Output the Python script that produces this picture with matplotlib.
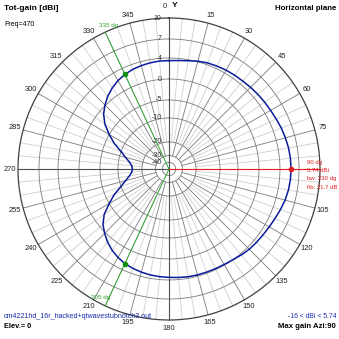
import numpy as np
import matplotlib
matplotlib.use("Agg")
import matplotlib.pyplot as plt

plt.rcParams['font.family'] = ['Liberation Sans', 'DejaVu Sans']

# Azimuth (deg, clockwise from Y) and total gain (dBi), 5 deg steps
azimuth = list(range(0, 365, 5))
gain = [3.5, 3.6, 3.8, 4.1, 4.3, 4.4, 4.5, 4.55, 4.6, 4.7, 4.8, 4.9,
        5.0, 5.15, 5.35, 5.5, 5.64, 5.72, 5.74, 5.72, 5.62, 5.45, 5.2, 4.95,
        4.75, 4.6, 4.5, 4.4, 4.2, 4.0, 3.87, 3.8, 3.77, 3.75, 3.7, 3.6,
        3.5, 3.45, 3.35, 3.2, 3.0, 2.74, 2.3, 1.75, 1.05, 0.2, -0.9, -2.6,
        -5.0, -7.4, -10.0, -12.5, -14.5, -15.7, -16.0, -15.7, -14.5, -12.5,
        -10.0, -7.4, -5.0, -2.8, -1.1, 0.1, 1.0, 1.7, 2.3, 2.74, 3.05,
        3.25, 3.4, 3.5, 3.5]

ring_db = [10, 7, 4, 0, -5, -10, -20, -30, -40]
ring_labels = ["10", "7", "4", "0", "-5", "-10", "-20", "-30", "-40"]
angle_labels = list(range(0, 360, 15))

max_az = 90
max_gain = 5.74
min_gain = -16
bw_left, bw_right = 335, 205
beamwidth = 230
front_back = 21.7

# ARRL-style log radial scale, outer ring = 1
scale_db = [-40, -30, -20, -10, -5, 0, 4, 7, 10]
scale_r = [0.044, 0.089, 0.179, 0.338, 0.457, 0.596, 0.735, 0.861, 1.0]


def rad(db):
    return np.interp(db, scale_db, scale_r, left=0.0)


def xy(az, r):
    a = np.radians(az)
    return r * np.sin(a), r * np.cos(a)


fig = plt.figure(figsize=(3.39, 3.39), dpi=100)
ax = fig.add_axes([0, 0, 1, 1])
ax.set_xlim(-169 / 151, 170 / 151)
ax.set_ylim(-170 / 151, 169 / 151)
ax.set_aspect("equal")
ax.axis("off")

grid = "#7a7a7a"
minor = "#cfcfcf"

# minor spokes every 5 deg, major every 15 deg
for a in range(0, 360, 5):
    if a % 15 == 0:
        continue
    x0, y0 = xy(a, rad(-20))
    x1, y1 = xy(a, 1.0)
    ax.plot([x0, x1], [y0, y1], color=minor, lw=0.6, zorder=1)
for a in range(0, 360, 15):
    if a % 90 == 0:
        continue
    x0, y0 = xy(a, rad(-30))
    x1, y1 = xy(a, 1.0)
    ax.plot([x0, x1], [y0, y1], color=grid, lw=0.6, zorder=2)

t = np.linspace(0, 360, 361)
for db in ring_db:
    x, y = xy(t, rad(db))
    ax.plot(x, y, color=grid if db < 10 else "#404040",
            lw=0.6 if db < 10 else 0.9, zorder=2)

# axes through the centre
ax.plot([0, 0], [-1, 1], color="#505050", lw=0.8, zorder=3)
ax.plot([-1, 0], [0, 0], color="#505050", lw=0.8, zorder=3)

# ring labels along the Y axis
for db, lab in zip(ring_db, ring_labels):
    ax.text(-0.05, rad(db), lab, fontsize=5, ha="right", va="center",
            color="#303030", zorder=4)

# azimuth labels (90 sits under the red readout)
for a in angle_labels:
    if a in (0, 90):
        continue
    x, y = xy(a, 1.055)
    ax.text(x, y, str(a), fontsize=5.4, ha="center", va="center", color="#202020")
ax.text(-0.03, 1.075, "0", fontsize=5.4, ha="center", va="center", color="#202020")
ax.text(0.035, 1.08, "Y", fontsize=6, ha="center", va="center", weight="bold")

# beamwidth markers
for a in (bw_left, bw_right):
    x1, y1 = xy(a, 1.0)
    ax.plot([0, x1], [0, y1], color="#2aa02a", lw=0.7, zorder=5)
    g = gain[azimuth.index(a)]
    px, py = xy(a, rad(g))
    ax.plot(px, py, "o", color="#109010", ms=3, zorder=7)
lx, ly = xy(bw_left, 1.0)
ax.text(lx + 0.025, ly + 0.03, f"{bw_left} dg", fontsize=4.5, color="#2aa02a",
        ha="center", va="bottom")
rx, ry = xy(bw_right, 1.0)
ax.text(rx - 0.03, ry + 0.04, f"{bw_right} dg", fontsize=4.5, color="#2aa02a",
        ha="center", va="bottom")

# max gain marker
mx, my = xy(max_az, 1.0)
ax.plot([0, mx], [0, my], color="#e02020", lw=0.8, zorder=5)
px, py = xy(max_az, rad(max_gain))
ax.plot(px, py, "o", color="#e02020", ms=3, zorder=7)
info = [f"{max_az} dg", f"{max_gain} dBi", f"bw: {beamwidth} dg",
        f"f/b: {front_back} dB"]
for i, s in enumerate(info):
    ax.text(0.915, 0.045 - i * 0.055, s, fontsize=4.3, color="#e02020",
            ha="left", va="center", zorder=8)

# pattern
x, y = xy(np.array(azimuth, dtype=float), rad(np.array(gain)))
ax.plot(x, y, color="#0a1a9a", lw=1.1, zorder=6)

# header / footer
fig.text(4 / 339, 1 - 8 / 339, "Tot-gain [dBi]", fontsize=6, weight="bold",
         va="center")
fig.text(4 / 339, 1 - 25 / 339, "Freq=470", fontsize=5, va="center")
fig.text(1 - 3 / 339, 1 - 8 / 339, "Horizontal plane", fontsize=5.7,
         weight="bold", va="center", ha="right")
fig.text(4 / 339, 1 - 316 / 339, "cm4221hd_16r_hacked+qtwavestubnotch3.out",
         fontsize=5.15, color="#1a2aaa", va="center")
fig.text(4 / 339, 1 - 327 / 339, "Elev.= 0", fontsize=5.3, weight="bold",
         va="center")
fig.text(1 - 3 / 339, 1 - 316 / 339, f"{min_gain} < dBi < {max_gain}",
         fontsize=4.9, color="#1a2aaa", va="center", ha="right")
fig.text(1 - 3 / 339, 1 - 327 / 339, f"Max gain Azi:{max_az}", fontsize=5.6,
         weight="bold", va="center", ha="right")

fig.savefig("out.png", dpi=100)
